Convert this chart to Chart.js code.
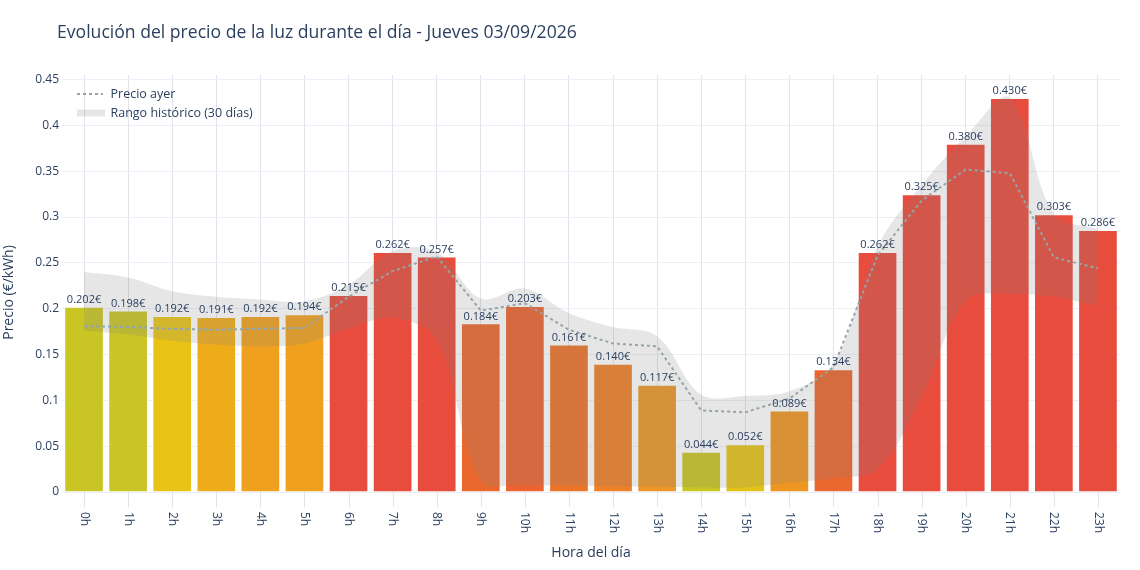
<!DOCTYPE html>
<html>
<head>
<meta charset="utf-8">
<script src="https://cdn.jsdelivr.net/npm/chart.js@4.4.1/dist/chart.umd.min.js"></script>
<style>
html,body{margin:0;padding:0;background:#ffffff;}
#wrap{position:relative;width:1140px;height:570px;}
</style>
</head>
<body>
<div id="wrap"><canvas id="c"></canvas></div>
<script>
// ---------- DATA ----------
const titleText = 'Evolución del precio de la luz durante el día - Jueves 03/09/2026';
const xTitle = 'Hora del día';
const yTitle = 'Precio (€/kWh)';
const legendAyer = 'Precio ayer';
const legendRango = 'Rango histórico (30 días)';

const hours = ['0h','1h','2h','3h','4h','5h','6h','7h','8h','9h','10h','11h','12h','13h','14h','15h','16h','17h','18h','19h','20h','21h','22h','23h'];
const precios = [0.202,0.198,0.192,0.191,0.192,0.194,0.215,0.262,0.257,0.184,0.203,0.161,0.140,0.117,0.044,0.052,0.089,0.134,0.262,0.325,0.380,0.430,0.303,0.286];
const precioAyer = [0.181,0.180,0.178,0.177,0.178,0.179,0.213,0.241,0.257,0.198,0.206,0.177,0.162,0.159,0.089,0.087,0.102,0.136,0.258,0.318,0.352,0.348,0.256,0.244];
const rangoMax = [0.240,0.234,0.219,0.213,0.210,0.208,0.226,0.263,0.262,0.211,0.222,0.195,0.180,0.170,0.106,0.105,0.110,0.140,0.268,0.335,0.388,0.430,0.303,0.287];
const rangoMin = [0.176,0.172,0.165,0.161,0.159,0.162,0.178,0.190,0.166,0.012,0.008,0.007,0.006,0.006,0.005,0.005,0.010,0.015,0.025,0.104,0.209,0.216,0.213,0.203];
const barColors = ['#c9c525','#c9c525','#e8c316','#eeac1b','#efa01f','#efa01f','#e84c3d','#e84c3d','#e84c3d','#ea682e','#eb6330','#eb742b','#ee8027','#eb9626','#c9c525','#e3c318','#ee9622','#ea6730','#e84c3d','#e84c3d','#e84c3d','#e84c3d','#e84c3d','#e84c3d'];
const yTickValues = [0,0.05,0.1,0.15,0.2,0.25,0.3,0.35,0.4,0.45];
const yTickLabels = ['0','0.05','0.1','0.15','0.2','0.25','0.3','0.35','0.4','0.45'];

// ---------- STYLE ----------
const FONT = '"Open Sans", "DejaVu Sans", sans-serif';
const TXT = '#2a3f5f';
const GRID_H = '#ebf0f8';
const GRID_V = '#e0e3e9';
const BAND = 'rgba(128,128,128,0.2)';
const AYER = '#95a5a6';

const decor = {
  id: 'decor',
  afterDatasetsDraw(chart) {
    const ctx = chart.ctx;
    const meta = chart.getDatasetMeta(0);
    ctx.save();
    ctx.font = '11px ' + FONT;
    ctx.fillStyle = TXT;
    ctx.textAlign = 'center';
    ctx.textBaseline = 'middle';
    meta.data.forEach((bar, i) => {
      ctx.fillText(precios[i].toFixed(3) + '€', bar.x, bar.y - 7);
    });
    ctx.restore();
  },
  afterDraw(chart) {
    const ctx = chart.ctx;
    const area = chart.chartArea;
    const xs = chart.scales.x;
    ctx.save();
    // x tick marks
    ctx.strokeStyle = GRID_V;
    ctx.lineWidth = 1;
    hours.forEach((h, i) => {
      const x = Math.round(xs.getPixelForValue(i)) + 0.5;
      ctx.beginPath();
      ctx.moveTo(x, area.bottom);
      ctx.lineTo(x, area.bottom + 15);
      ctx.stroke();
    });
    // x tick labels rotated clockwise
    ctx.font = '12px ' + FONT;
    ctx.fillStyle = TXT;
    ctx.textAlign = 'left';
    ctx.textBaseline = 'middle';
    hours.forEach((h, i) => {
      const x = xs.getPixelForValue(i);
      ctx.save();
      ctx.translate(x, area.bottom + 20);
      ctx.rotate(Math.PI / 2);
      ctx.fillText(h, 0, 0);
      ctx.restore();
    });
    // title
    ctx.font = '17.6px ' + FONT;
    ctx.textAlign = 'left';
    ctx.textBaseline = 'alphabetic';
    ctx.fillText(titleText, 57, 38);
    // x axis title
    ctx.font = '14px ' + FONT;
    ctx.textAlign = 'center';
    ctx.fillText(xTitle, (area.left + area.right) / 2, 557);
    // y axis title
    ctx.save();
    ctx.translate(9.5, 292.5);
    ctx.rotate(-Math.PI / 2);
    ctx.textBaseline = 'middle';
    ctx.fillText(yTitle, 0, 0);
    ctx.restore();
    // legend
    ctx.strokeStyle = AYER;
    ctx.lineWidth = 2;
    ctx.setLineDash([3, 3]);
    ctx.beginPath();
    ctx.moveTo(77, 94);
    ctx.lineTo(103, 94);
    ctx.stroke();
    ctx.setLineDash([]);
    ctx.fillStyle = BAND;
    ctx.fillRect(77, 109.5, 28, 7);
    ctx.fillStyle = TXT;
    ctx.font = '12.5px ' + FONT;
    ctx.textAlign = 'left';
    ctx.textBaseline = 'middle';
    ctx.fillText(legendAyer, 110.5, 94.5);
    ctx.fillText(legendRango, 110.5, 113);
    ctx.restore();
  }
};

function draw() {
  new Chart(document.getElementById('c'), {
    type: 'bar',
    data: {
      labels: hours,
      datasets: [
        {
          type: 'bar',
          data: precios,
          backgroundColor: barColors,
          borderColor: 'rgba(255,255,255,0.45)',
          borderWidth: 1,
          barPercentage: 0.9,
          categoryPercentage: 1.0,
          order: 3
        },
        {
          type: 'line',
          label: 'min',
          data: rangoMin,
          borderWidth: 0,
          borderColor: 'rgba(0,0,0,0)',
          pointRadius: 0,
          tension: 0.35,
          fill: false,
          order: 2
        },
        {
          type: 'line',
          label: legendRango,
          data: rangoMax,
          borderWidth: 0,
          borderColor: 'rgba(0,0,0,0)',
          backgroundColor: BAND,
          pointRadius: 0,
          tension: 0.35,
          fill: '-1',
          order: 2
        },
        {
          type: 'line',
          label: legendAyer,
          data: precioAyer,
          borderColor: AYER,
          borderWidth: 2,
          borderDash: [3, 3],
          pointRadius: 0,
          tension: 0,
          fill: false,
          order: 1
        }
      ]
    },
    options: {
      responsive: true,
      maintainAspectRatio: false,
      animation: false,
      layout: { padding: { top: 75, right: 20, left: 0, bottom: 0 } },
      plugins: {
        legend: { display: false },
        title: { display: false },
        tooltip: { enabled: false },
        filler: { propagate: false }
      },
      scales: {
        x: {
          offset: true,
          grid: { offset: false, color: GRID_V, drawTicks: false },
          border: { display: false },
          ticks: { display: false },
          afterFit(scale) { scale.height = 78; }
        },
        y: {
          min: 0,
          max: 0.455,
          grid: { color: GRID_H, drawTicks: false },
          border: { display: false },
          afterBuildTicks(scale) { scale.ticks = yTickValues.map(v => ({ value: v })); },
          ticks: {
            padding: 3,
            color: TXT,
            font: { family: FONT, size: 12 },
            callback: (v, i) => yTickLabels[i]
          },
          afterFit(scale) { scale.width = 62; }
        }
      }
    },
    plugins: [decor]
  });
}
if (document.fonts && document.fonts.load) {
  Promise.all([document.fonts.load('12px "Open Sans"'), document.fonts.load('17px "Open Sans"')]).then(draw, draw);
} else { draw(); }
</script>
</body>
</html>
